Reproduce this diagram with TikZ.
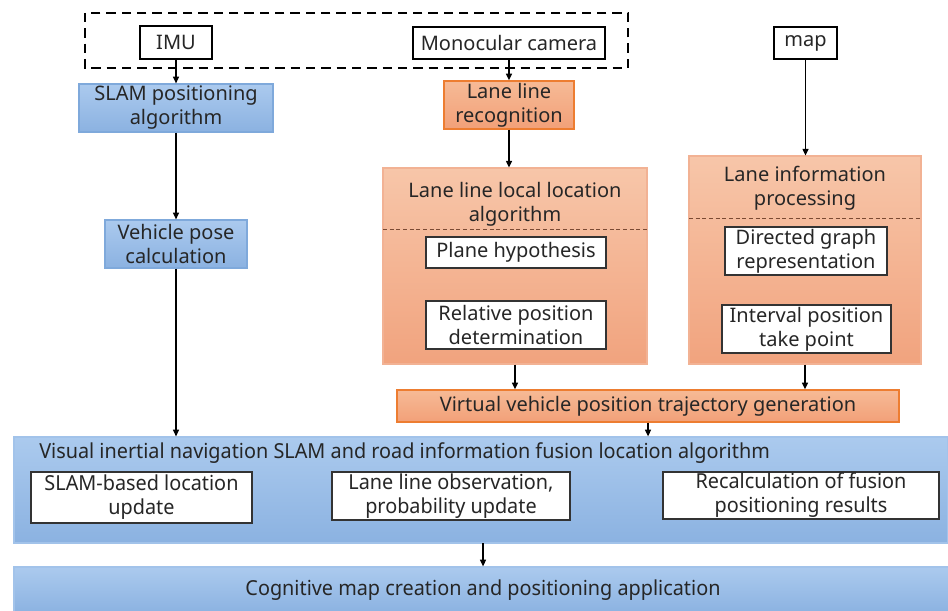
\documentclass[tikz,border=0pt]{standalone}
\usepackage{fontspec}
\usetikzlibrary{arrows.meta,calc}
\newfontfamily\mainf{Noto Sans}
\newfontfamily\narrowf[FakeStretch=0.96]{Noto Sans}

\definecolor{txt}{HTML}{262626}
\definecolor{bluetop}{HTML}{ABCAEE}
\definecolor{bluebot}{HTML}{8BB2E1}
\definecolor{blueedge}{HTML}{7FA9DB}
\definecolor{ortop}{HTML}{F7C6A9}
\definecolor{orbot}{HTML}{F1A37E}
\definecolor{oredge}{HTML}{F2B294}
\definecolor{orstrong}{HTML}{ED7D31}
\definecolor{ormidtop}{HTML}{F6BA96}
\definecolor{ormidbot}{HTML}{F2A078}
\definecolor{sepline}{HTML}{7A4A33}

\tikzset{
  every node/.style={font=\mainf\fontsize{15}{18}\selectfont, text=txt, align=center, inner sep=0pt},
  whitebox/.style={draw=black, line width=1.1pt, fill=white},
  thinbox/.style={draw=black!80, line width=0.8pt, fill=white},
  bluebox/.style={top color=bluetop, bottom color=bluebot, draw=blueedge, line width=0.9pt},
  orbox/.style={top color=ormidtop, bottom color=ormidbot, draw=orstrong, line width=1.1pt},
  orbig/.style={top color=ortop, bottom color=orbot, draw=oredge, line width=0.8pt},
  narrow/.style={font=\narrowf\fontsize{15.5}{18}\selectfont},
  flow/.style={line width=1.1pt, draw=black, -{Triangle[length=5pt,width=4.5pt]}},
  sep/.style={draw=sepline, dashed, dash pattern=on 3pt off 2pt, line width=0.6pt}
}

\begin{document}
\begin{tikzpicture}[x=0.75pt, y=-0.75pt]
\useasboundingbox (0,0) rectangle (948,610);

% sensor group
\draw[line width=1.1pt, dash pattern=on 7pt off 4.5pt] (85,13) rectangle (628,68);

% inputs
\node[whitebox, minimum width=54pt, minimum height=24.75pt] (imu) at (176,42.5) {IMU};
\node[whitebox, minimum width=144pt, minimum height=24pt] (cam) at (509,43) {Monocular camera};
\node[whitebox, minimum width=47.25pt, minimum height=24pt] (map) at (805.5,43) {map};

% left branch
\node[bluebox, minimum width=145.5pt, minimum height=36pt] (slam) at (176,108) {SLAM positioning\\algorithm};
\node[bluebox, minimum width=106.5pt, minimum height=36pt] (pose) at (176,244) {Vehicle pose\\calculation};

% middle branch
\node[orbox, minimum width=97.5pt, minimum height=36pt] (recog) at (509,105) {Lane line\\recognition};
\node[orbig, minimum width=198pt, minimum height=147pt] (local) at (515,266) {};
\node (localtitle) at (515,204) {Lane line local location\\algorithm};
\draw[sep] (383,229) -- (647,229);
\node[thinbox, minimum width=135pt, minimum height=23.25pt] (plane) at (516,252.5) {Plane hypothesis};
\node[thinbox, minimum width=135pt, minimum height=36pt] (rel) at (516,325) {Relative position\\determination};

% right branch
\node[orbig, minimum width=174pt, minimum height=156pt] (info) at (805,260) {};
\node (infotitle) at (805,188) {Lane information\\processing};
\draw[sep] (689,218) -- (921,218);
\node[thinbox, minimum width=121.5pt, minimum height=36pt] (graph) at (806,251) {Directed graph\\representation};
\node[thinbox, minimum width=126.75pt, minimum height=36pt] (interval) at (806.5,329) {Interval position\\take point};

% trajectory
\node[orbox, minimum width=376.5pt, minimum height=24pt] (virt) at (648,406) {Virtual vehicle position trajectory generation};

% fusion
\node[bluebox, draw=bluetop!80!blueedge, minimum width=700.5pt, minimum height=79.5pt] (fusion) at (481,490) {};
\node[narrow, anchor=west] (fustitle) at (39,453) {Visual inertial navigation SLAM and road information fusion location algorithm};
\node[thinbox, narrow, minimum width=165.75pt, minimum height=38.25pt] (upd) at (141.5,497.5) {SLAM-based location\\update};
\node[thinbox, narrow, minimum width=178.5pt, minimum height=36pt] (obs) at (451,496) {Lane line observation,\\probability update};
\node[thinbox, narrow, minimum width=207pt, minimum height=35.25pt] (recalc) at (801,495.5) {Recalculation of fusion\\positioning results};

% application
\node[bluebox, draw=bluetop!80!blueedge, minimum width=703.5pt, minimum height=34.5pt] (app) at (483,590) {};
\node[narrow] (apptext) at (483,590) {Cognitive map creation and positioning application};

% connectors
\draw[flow] (imu.south) -- (slam.north);
\draw[flow] (slam.south) -- (pose.north);
\draw[flow] (pose.south) -- (pose.south |- fusion.north);
\draw[flow] (cam.south) -- (recog.north);
\draw[flow] (recog.south) -- (recog.south |- local.north);
\draw[flow] (map.south) -- (map.south |- info.north);
\draw[flow] (local.south) -- (local.south |- virt.north);
\draw[flow] (info.south) -- (info.south |- virt.north);
\draw[flow] (virt.south) -- (virt.south |- fusion.north);
\coordinate (fusout) at (483,543);
\draw[flow] (fusout) -- (fusout |- app.north);
\end{tikzpicture}
\end{document}
